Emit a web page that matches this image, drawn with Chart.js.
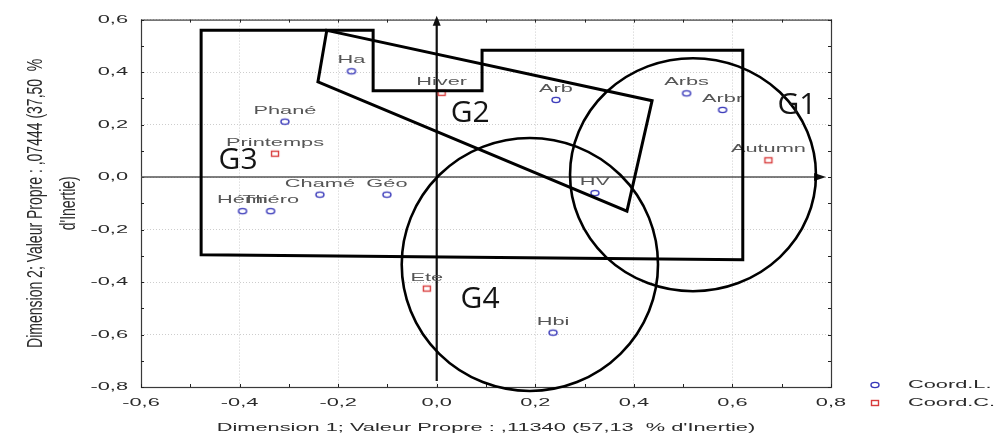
<!DOCTYPE html>
<html><head><meta charset="utf-8">
<script src="https://cdn.jsdelivr.net/npm/chart.js@4.4.1/dist/chart.umd.min.js"></script>
<style>html,body{margin:0;padding:0;background:#fff;overflow:hidden}</style>
</head><body><canvas id="c" width="997" height="447"></canvas>
<script>
// ---- data ----
const rowLabels = ['Ha','Phané','Chamé','Géo','Hémi','Théro','Arb','Arbs','Arbr','HV','Hbi'];
const rowX = [-0.173,-0.308,-0.237,-0.101,-0.394,-0.337,0.242,0.507,0.580,0.321,0.236];
const rowY = [0.403,0.211,-0.067,-0.067,-0.130,-0.130,0.294,0.319,0.256,-0.061,-0.593];
const colLabels = ['Hiver','Printemps','Autumn','Ete'];
const colX = [0.010,-0.328,0.673,-0.020];
const colY = [0.321,0.089,0.064,-0.425];
const xTickLabels = ['-0,6','-0,4','-0,2','0,0','0,2','0,4','0,6','0,8'];
const yTickLabels = ['-0,8','-0,6','-0,4','-0,2','0,0','0,2','0,4','0,6'];
const seriesNames = ['Coord.L.','Coord.C.'];
const xTitle = "Dimension 1; Valeur Propre : ,11340 (57,13  % d'Inertie)";
const yTitle = ["Dimension 2; Valeur Propre : ,07444 (37,50  %", "d'Inertie)"];
// hand-drawn group outlines (data units)
const g3Outline = [[-0.478,0.559],[-0.129,0.559],[-0.129,0.329],[0.092,0.329],[0.092,0.483],[0.621,0.483],[0.621,-0.315],[-0.478,-0.296]];
const g2Outline = [[-0.223,0.559],[0.437,0.291],[0.386,-0.130],[-0.241,0.363]];
const g1Ellipse = [0.520,0.009,0.2495,0.444];
const g4Ellipse = [0.189,-0.333,0.260,0.482];
const groupNames = ['G1','G2','G3','G4'];
const groupX = [0.731,0.068,-0.403,0.088];
const groupY = [0.272,0.242,0.065,-0.465];

// ---- styles ----
const FONT = "'Liberation Sans', Arial, sans-serif";
const SX = 1.98;   // horizontal stretch of text
const SXT = 1.55;  // stretch across rotated y title
const BLUE = '#3434b8', RED = '#d83c3c', TXT = '#2a2a2a';

function marker(kind){
  const c = document.createElement('canvas'); c.width = 12; c.height = 10;
  const g = c.getContext('2d'); g.lineWidth = 1.4;
  if (kind === 'circle'){ g.strokeStyle = BLUE; g.beginPath(); g.ellipse(6,5,4,2.6,0,0,Math.PI*2); g.stroke(); }
  else { g.strokeStyle = RED; g.strokeRect(2.5,2.5,7,5); }
  return c;
}
const circleImg = marker('circle'), squareImg = marker('square');

function stretchCall(ctx, sx, fn){
  const orig = Object.getPrototypeOf(ctx).translate;
  ctx.translate = function(x,y){ orig.call(this,x,y); this.scale(sx,1); };
  try { fn(); } finally { delete ctx.translate; }
}
function stretchText(ctx, t, x, y, sx){
  ctx.save(); ctx.translate(x,y); ctx.scale(sx,1); ctx.fillText(t,0,0); ctx.restore();
}

const decor = {
  id:'decor',
  beforeDraw(chart){
    Object.values(chart.scales).forEach(s=>{
      if (s.$st) return; s.$st = true;
      const dl = s.drawLabels.bind(s), dt = s.drawTitle.bind(s);
      s.drawLabels = function(a){ stretchCall(this.ctx, SX, ()=>dl(a)); };
      s.drawTitle = function(){ stretchCall(this.ctx, this.axis==='y'?SXT:SX, ()=>dt()); };
    });
  },
  beforeDatasetsDraw(chart){
    const {ctx, chartArea:a, scales:{x,y}} = chart;
    ctx.save();
    // frame
    ctx.strokeStyle = '#3a3a3a'; ctx.lineWidth = 1.2;
    ctx.strokeRect(a.left+0.5, a.top+0.5, a.right-a.left, a.bottom-a.top);
    // minor ticks
    ctx.lineWidth = 1; ctx.strokeStyle = '#222';
    for (let k=-6;k<=8;k++){ const px = Math.round(x.getPixelForValue(k/10))+0.5;
      ctx.beginPath(); ctx.moveTo(px,a.bottom); ctx.lineTo(px,a.bottom-3); ctx.moveTo(px,a.top); ctx.lineTo(px,a.top+3); ctx.stroke(); }
    for (let k=-8;k<=6;k++){ const py = Math.round(y.getPixelForValue(k/10))+0.5;
      ctx.beginPath(); ctx.moveTo(a.left,py); ctx.lineTo(a.left+3,py); ctx.moveTo(a.right,py); ctx.lineTo(a.right-3,py); ctx.stroke(); }
    // zero axes with arrows
    const x0 = x.getPixelForValue(0), y0 = y.getPixelForValue(0);
    const xTip = x.getPixelForValue(0.79), yTip = y.getPixelForValue(0.615);
    ctx.strokeStyle = '#555'; ctx.lineWidth = 1.5;
    ctx.beginPath(); ctx.moveTo(a.left, y0); ctx.lineTo(xTip-8, y0); ctx.stroke();
    ctx.fillStyle = '#111';
    ctx.beginPath(); ctx.moveTo(xTip, y0); ctx.lineTo(xTip-12, y0-4); ctx.lineTo(xTip-12, y0+4); ctx.closePath(); ctx.fill();
    ctx.strokeStyle = '#111'; ctx.lineWidth = 2.2;
    ctx.beginPath(); ctx.moveTo(x0, a.bottom-6); ctx.lineTo(x0, yTip+6); ctx.stroke();
    ctx.beginPath(); ctx.moveTo(x0, yTip); ctx.lineTo(x0-4, yTip+10); ctx.lineTo(x0+4, yTip+10); ctx.closePath(); ctx.fill();
    ctx.restore();
  },
  afterDatasetsDraw(chart){
    const {ctx, scales:{x,y}} = chart;
    ctx.save();
    ctx.font = '11px ' + FONT; ctx.fillStyle = '#555'; ctx.textAlign = 'center'; ctx.textBaseline = 'alphabetic';
    rowLabels.forEach((t,i)=>stretchText(ctx, t, x.getPixelForValue(rowX[i]), y.getPixelForValue(rowY[i])-8, SX));
    colLabels.forEach((t,i)=>stretchText(ctx, t, x.getPixelForValue(colX[i]), y.getPixelForValue(colY[i])-8, SX));
    // group outlines
    ctx.strokeStyle = '#000'; ctx.lineWidth = 3; ctx.lineJoin = 'miter';
    [g3Outline, g2Outline].forEach(poly=>{
      ctx.beginPath();
      poly.forEach((p,i)=>{ const px = x.getPixelForValue(p[0]), py = y.getPixelForValue(p[1]); i?ctx.lineTo(px,py):ctx.moveTo(px,py); });
      ctx.closePath(); ctx.stroke();
    });
    ctx.lineWidth = 2.6;
    [g1Ellipse, g4Ellipse].forEach(e=>{
      const cx = x.getPixelForValue(e[0]), cy = y.getPixelForValue(e[1]);
      const rx = Math.abs(x.getPixelForValue(e[0]+e[2])-cx), ry = Math.abs(y.getPixelForValue(e[1]+e[3])-cy);
      ctx.beginPath(); ctx.ellipse(cx,cy,rx,ry,0,0,Math.PI*2); ctx.stroke();
    });
    ctx.font = "30px 'Open Sans', sans-serif"; ctx.fillStyle = '#141414'; ctx.textBaseline = 'middle';
    groupNames.forEach((t,i)=>ctx.fillText(t, x.getPixelForValue(groupX[i]), y.getPixelForValue(groupY[i])));
    ctx.restore();
  },
  afterDraw(chart){
    const {ctx, chartArea:a} = chart;
    ctx.save();
    const lx = a.right + 44, ly = [a.bottom-2, a.bottom+16];
    ctx.drawImage(circleImg, lx-6, ly[0]-5); ctx.drawImage(squareImg, lx-6, ly[1]-5);
    ctx.font = '11px ' + FONT; ctx.fillStyle = TXT; ctx.textAlign = 'left'; ctx.textBaseline = 'middle';
    seriesNames.forEach((t,i)=>stretchText(ctx, t, lx+33, ly[i], SX));
    ctx.restore();
  }
};

new Chart(document.getElementById('c'), {
  type:'scatter',
  data:{datasets:[
    {label:seriesNames[0], data:rowX.map((v,i)=>({x:v,y:rowY[i]})), pointStyle:circleImg, pointRadius:4, borderColor:BLUE, backgroundColor:BLUE},
    {label:seriesNames[1], data:colX.map((v,i)=>({x:v,y:colY[i]})), pointStyle:squareImg, pointRadius:4, borderColor:RED, backgroundColor:RED}
  ]},
  options:{
    responsive:false, animation:false, devicePixelRatio:1,
    layout:{padding:{top:16,right:166,bottom:0,left:0}},
    plugins:{legend:{display:false}, tooltip:{enabled:false}},
    scales:{
      x:{type:'linear', min:-0.6, max:0.8,
        afterFit(s){ s.height = 60; },
        ticks:{stepSize:0.2, autoSkip:false, maxRotation:0, padding:9, color:TXT, font:{family:FONT,size:11},
          callback:(v)=>xTickLabels[Math.round((v+0.6)/0.2)] ?? ''},
        grid:{color:'#cdcdcd', lineWidth:1, drawTicks:false},
        border:{display:false, dash:[1,2]},
        title:{display:true, text:xTitle, color:TXT, font:{family:FONT,size:11}, padding:{top:0,bottom:12}}
      },
      y:{type:'linear', min:-0.8, max:0.6,
        afterFit(s){ s.width = 141; },
        ticks:{stepSize:0.2, autoSkip:false, padding:13, color:TXT, font:{family:FONT,size:11},
          callback:(v)=>yTickLabels[Math.round((v+0.8)/0.2)] ?? ''},
        grid:{color:'#cdcdcd', lineWidth:1, drawTicks:false},
        border:{display:false, dash:[1,2]},
        title:{display:true, text:yTitle, color:TXT, font:{family:FONT,size:14,lineHeight:1.5}, padding:{top:26,bottom:0}}
      }
    }
  },
  plugins:[decor]
});
</script></body></html>
